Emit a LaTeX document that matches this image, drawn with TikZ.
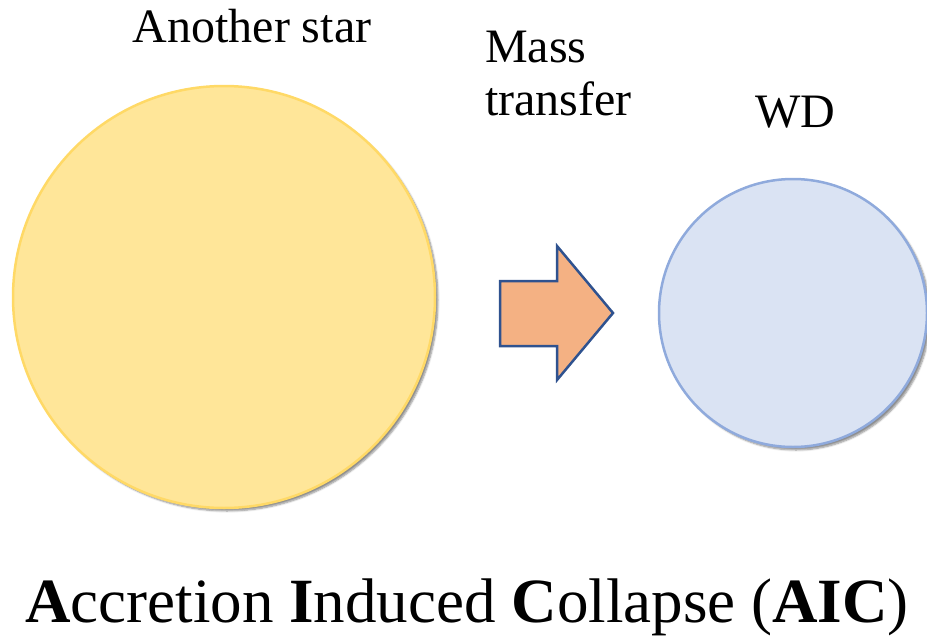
\documentclass[tikz,border=0pt]{standalone}
\usepackage{fontspec}
\setmainfont{Liberation Serif}
\newfontfamily\labelfont{Liberation Serif}
\usetikzlibrary{shadows.blur}
\usepackage{xcolor}
\definecolor{starfill}{HTML}{FFE699}
\definecolor{starline}{HTML}{FFD966}
\definecolor{wdfill}{HTML}{DAE3F3}
\definecolor{wdline}{HTML}{8FAADC}
\definecolor{flowfill}{HTML}{F4B183}
\definecolor{flowline}{HTML}{2F528F}

\begin{document}
\begin{tikzpicture}[
    x=1pt, y=-1pt,
    body/.style={circle, inner sep=0pt, line width=2.5pt,
        blur shadow={shadow xshift=3pt, shadow yshift=-3pt, shadow blur steps=6, shadow opacity=45}},
    lbl/.style={font=\labelfont\fontsize{48}{53}\selectfont, inner sep=0pt},
    flow/.style={draw=flowline, fill=flowfill, line width=2.5pt, line join=miter}
]
    \useasboundingbox (0,0) rectangle (927,640);

    \node[body, draw=starline, fill=starfill, minimum size=422pt] (star) at (224,297) {};
    \node[body, draw=wdline, fill=wdfill, minimum size=268pt] (wd) at (793,313) {};

    \draw[flow] (500,281) -- (557,281) -- (557,246) -- (613,313) -- (557,380)
        -- (557,346) -- (500,346) -- cycle;

    \node[lbl, anchor=base] (startxt) at (252,42) {Another star};
    \node[lbl, anchor=base west] (masstxt) at (485,62) {Mass};
    \node[lbl, anchor=base west] (transtxt) at (485,115) {transfer};
    \node[lbl, anchor=base] (wdtxt) at (795,127) {WD};

    \node[font=\labelfont\fontsize{63}{70}\selectfont, inner sep=0pt, anchor=base] (aic) at (467,622)
        {\textbf{A}ccretion \textbf{I}nduced \textbf{C}ollapse (\textbf{AIC})};
\end{tikzpicture}
\end{document}
